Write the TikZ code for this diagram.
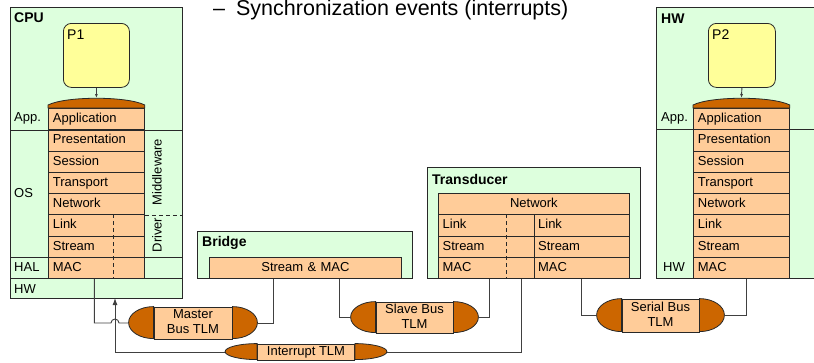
\documentclass[tikz,border=0pt]{standalone}
\usepackage{fontspec}
\setmainfont{Liberation Sans}
\usetikzlibrary{calc,arrows.meta}

\definecolor{boxg}{RGB}{221,255,221}
\definecolor{layer}{RGB}{255,204,153}
\definecolor{capc}{RGB}{204,102,0}
\definecolor{procy}{RGB}{255,255,153}
\definecolor{edgec}{RGB}{40,40,40}
\definecolor{wirec}{RGB}{64,64,64}

\newcommand\rowfont{\fontsize{13}{15}\selectfont}
\newcommand\procfont{\fontsize{14}{16}\selectfont}
\newcommand\headfont{\fontsize{14}{16}\selectfont\bfseries}
\newcommand\topfont{\fontsize{21.5}{24}\selectfont}

\begin{document}
\begin{tikzpicture}[x=1pt,y=-1pt,
  frame/.style={draw=edgec, line width=1.1pt, fill=boxg, inner sep=0pt, anchor=north west},
  row/.style={draw=edgec, line width=0.8pt, fill=layer, inner sep=0pt, anchor=north west,
    minimum width=96pt, minimum height=21.25pt, text width=87pt, align=left,
    text height=9.5pt, text depth=2.5pt, font=\rowfont},
  cell/.style={row, minimum width=95.5pt},
  wide/.style={row, align=center},
  head/.style={anchor=west, inner sep=0pt, font=\headfont},
  side/.style={anchor=west, inner sep=0pt, font=\rowfont},
  proc/.style={draw=edgec, line width=0.8pt, fill=procy, rounded corners=8pt,
    minimum width=66pt, minimum height=64pt, anchor=north west, inner sep=0pt},
  capfill/.style={draw=edgec, line width=0.8pt, fill=capc},
  tlm/.style={draw=edgec, line width=0.8pt, fill=layer, inner sep=0pt, align=center,
    font=\rowfont, text depth=2.5pt},
  wire/.style={draw=wirec, line width=0.9pt},
  divide/.style={draw=edgec, line width=0.8pt},
  dashdiv/.style={draw=edgec, line width=0.8pt, dash pattern=on 4pt off 3pt},
  tip/.style={-{Latex[length=7pt,width=5pt]}},
  smalltip/.style={-{Latex[length=4pt,width=3pt]}}
]
\clip (0,0) rectangle (814,362);

% heading line
\node[anchor=base west, inner sep=0pt, font=\topfont] (bullet) at (213,15.5)
  {–\hspace{11pt}Synchronization events (interrupts)};

% ---------------- CPU ----------------
\node[frame, minimum width=172pt, minimum height=291pt] (cpu) at (10,7) {};
\node[head] (cpuT) at (14,18) {CPU};
\node[proc] (p1) at (63,23) {};
\node[anchor=west, inner sep=0pt, font=\procfont] (p1T) at (67,35) {P1};

\node[row] (cApp) at (48,108) {Application};
\node[row] (cPre) at (48,129.25) {Presentation};
\node[row] (cSes) at (48,150.5) {Session};
\node[row] (cTra) at (48,171.75) {Transport};
\node[row] (cNet) at (48,193) {Network};
\node[row] (cLnk) at (48,214.25) {Link};
\node[row] (cStr) at (48,235.5) {Stream};
\node[row] (cMac) at (48,256.75) {MAC};

\filldraw[capfill] (cApp.north west) -- ++(0,-3)
  .. controls +(18,-9) and +(-18,-9) .. ($(cApp.north east)+(0,-3)$)
  -- (cApp.north east) -- cycle;
\coordinate (cTop) at ($(cApp.north)+(0,-10)$);
\draw[wire, smalltip] (p1.south) -- (cTop);

\draw[divide] (cpu.west |- cApp.south) -- (cpu.east |- cApp.south);
\draw[divide] (cpu.west |- cStr.south) -- (cpu.east |- cStr.south);
\draw[divide] (cpu.west |- cMac.south) -- (cpu.east |- cMac.south);
\draw[dashdiv] (cNet.south east) -- (cpu.east |- cNet.south);
\draw[dashdiv] ($(cLnk.north west)!0.677!(cLnk.north east)$) --
  ($(cMac.south west)!0.677!(cMac.south east)$);

\node[side] (cAppL) at (14,118) {App.};
\node[side] (cOsL) at (14,193) {OS};
\node[side] (cHalL) at (14,267) {HAL};
\node[side] (cHwL) at (14,289) {HW};
\node[rotate=90, inner sep=0pt, font=\rowfont] (mid) at (157,172) {Middleware};
\node[rotate=90, inner sep=0pt, font=\rowfont] (drv) at (157,235) {Driver};

% ---------------- HW ----------------
\node[frame, minimum width=170pt, minimum height=271pt] (hw) at (656,7) {};
\node[head] (hwT) at (661,19) {HW};
\node[proc, minimum width=67pt] (p2) at (708,23) {};
\node[anchor=west, inner sep=0pt, font=\procfont] (p2T) at (712,35) {P2};

\draw[divide] (hw.west |- 0,129.25) -- (hw.east |- 0,129.25);
\node[row] (hApp) at (693,108) {Application};
\node[row] (hPre) at (693,129.25) {Presentation};
\node[row] (hSes) at (693,150.5) {Session};
\node[row] (hTra) at (693,171.75) {Transport};
\node[row] (hNet) at (693,193) {Network};
\node[row] (hLnk) at (693,214.25) {Link};
\node[row] (hStr) at (693,235.5) {Stream};
\node[row] (hMac) at (693,256.75) {MAC};

\filldraw[capfill] (hApp.north west) -- ++(0,-3)
  .. controls +(18,-9) and +(-18,-9) .. ($(hApp.north east)+(0,-3)$)
  -- (hApp.north east) -- cycle;
\coordinate (hTop) at ($(hApp.north)+(0,-10)$);
\draw[wire, smalltip] (p2.south) -- (hTop);

\node[side] (hAppL) at (661,118) {App.};
\node[side] (hHwL) at (663,267) {HW};

% ---------------- Bridge ----------------
\node[frame, minimum width=215pt, minimum height=47pt] (br) at (197,231) {};
\node[head] (brT) at (202,243) {Bridge};
\node[wide, minimum width=192pt, minimum height=21pt, text width=180pt] (smac) at (209,257) {Stream \& MAC};

% ---------------- Transducer ----------------
\node[frame, minimum width=213pt, minimum height=111pt] (td) at (427,167) {};
\node[head] (tdT) at (432,179) {Transducer};
\node[wide, minimum width=191pt, text width=180pt] (tNet) at (438,193) {Network};
\node[cell] (tLnkL) at (438,214.25) {Link};
\node[cell] (tStrL) at (438,235.5) {Stream};
\node[cell] (tMacL) at (438,256.75) {MAC};
\node[cell] (tLnkR) at (533.5,214.25) {Link};
\node[cell] (tStrR) at (533.5,235.5) {Stream};
\node[cell] (tMacR) at (533.5,256.75) {MAC};
\draw[dashdiv] ($(tLnkL.north west)!0.712!(tLnkL.north east)$) --
  ($(tMacL.south west)!0.712!(tMacL.south east)$);

% ---------------- transaction-level channels ----------------
\node[tlm, minimum width=78pt, minimum height=32pt] (mst) at (193,323) {Master\\Bus TLM};
\filldraw[capfill] (mst.north west) arc[start angle=270, end angle=90, x radius=25, y radius=16] -- cycle;
\filldraw[capfill] (mst.north east) arc[start angle=-90, end angle=90, x radius=25, y radius=16] -- cycle;
\coordinate (mstL) at ([xshift=-25pt]mst.west);
\coordinate (mstR) at ([xshift=25pt]mst.east);

\node[tlm, minimum width=77pt, minimum height=31pt] (slv) at (414.5,317.5) {Slave Bus\\TLM};
\filldraw[capfill] (slv.north west) arc[start angle=270, end angle=90, x radius=25, y radius=15.5] -- cycle;
\filldraw[capfill] (slv.north east) arc[start angle=-90, end angle=90, x radius=25, y radius=15.5] -- cycle;
\coordinate (slvL) at ([xshift=-25pt]slv.west);
\coordinate (slvR) at ([xshift=25pt]slv.east);

\node[tlm, minimum width=77pt, minimum height=33pt] (ser) at (660.5,315.5) {Serial Bus\\TLM};
\filldraw[capfill] (ser.north west) arc[start angle=270, end angle=90, x radius=25, y radius=16.5] -- cycle;
\filldraw[capfill] (ser.north east) arc[start angle=-90, end angle=90, x radius=25, y radius=16.5] -- cycle;
\coordinate (serL) at ([xshift=-25pt]ser.west);
\coordinate (serR) at ([xshift=25pt]ser.east);

\node[tlm, minimum width=97pt, minimum height=16pt] (irq) at (306,352) {Interrupt TLM};
\filldraw[capfill] (irq.north west) arc[start angle=270, end angle=90, x radius=32, y radius=8] -- cycle;
\filldraw[capfill] (irq.north east) arc[start angle=-90, end angle=90, x radius=32, y radius=8] -- cycle;
\coordinate (irqL) at ([xshift=-32pt]irq.west);
\coordinate (irqR) at ([xshift=32pt]irq.east);

% ---------------- connectors ----------------
\coordinate (cpuIrq) at (115,298);
\coordinate (jmp) at (cpuIrq |- mst.west);
\draw[wire] ([xshift=-2pt]cMac.south) |- ([xshift=-4pt]jmp)
  arc[start angle=180, end angle=360, radius=4] -- (mstL);
\draw[wire, tip] (irqL) -| (cpuIrq);
\draw[wire] (mstR) -| ([xshift=-32pt]smac.south);
\draw[wire] ([xshift=34pt]smac.south) |- (slvL);
\draw[wire] (slvR) -| ([xshift=3.5pt]tMacL.south);
\draw[wire] (irqR) -| ([xshift=-12.5pt]tMacL.south east);
\draw[wire] (tMacR.south) |- (serL);
\draw[wire] (serR) -| ([xshift=5pt]hMac.south);
\end{tikzpicture}
\end{document}
